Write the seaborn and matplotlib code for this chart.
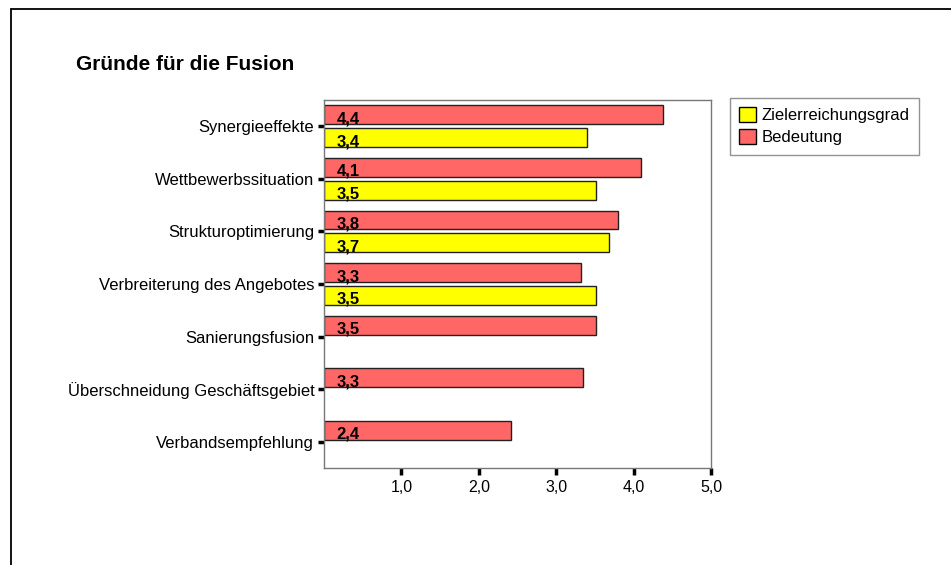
import numpy as np
import pandas as pd
import matplotlib
matplotlib.use("Agg")
import matplotlib.pyplot as plt
import seaborn as sns
from matplotlib.lines import Line2D
from matplotlib.patches import Patch

categories = ["Synergieeffekte", "Wettbewerbssituation", "Strukturoptimierung",
              "Verbreiterung des Angebotes", "Sanierungsfusion",
              "Überschneidung Geschäftsgebiet", "Verbandsempfehlung"]
bedeutung = [4.38, 4.10, 3.80, 3.32, 3.52, 3.34, 2.41]
ziel = [3.40, 3.51, 3.68, 3.52, np.nan, np.nan, np.nan]
xticks = [1, 2, 3, 4, 5]

sns.set_style("white")
plt.rcParams['font.family'] = ['Liberation Sans', 'DejaVu Sans']
plt.rcParams['text.color'] = 'black'
plt.rcParams['xtick.color'] = 'black'
plt.rcParams['ytick.color'] = 'black'

df = pd.DataFrame({
    'Kategorie': categories * 2,
    'Wert': bedeutung + ziel,
    'Reihe': ['Bedeutung'] * len(categories) + ['Zielerreichungsgrad'] * len(categories),
})

colors = {'Bedeutung': '#FF6666', 'Zielerreichungsgrad': '#FFFF00'}

fig = plt.figure(figsize=(9.51, 5.65), dpi=100)
ax = fig.add_axes([324 / 951, 1 - 468 / 565, 387 / 951, 368 / 565])

sns.barplot(data=df, y='Kategorie', x='Wert', hue='Reihe', orient='h',
            hue_order=['Bedeutung', 'Zielerreichungsgrad'], palette=colors,
            saturation=1, width=0.87, gap=0.17, edgecolor='#222222', linewidth=1,
            ax=ax, legend=False)

# value labels inside the bars, bold, near the left
for cont in ax.containers:
    for bar in cont:
        w = bar.get_width()
        if not np.isfinite(w) or w == 0:
            continue
        bottom = bar.get_y() + bar.get_height()
        ax.text(0.16, bottom - 0.02, f"{w:.1f}".replace('.', ','),
                fontsize=12, fontweight='bold', va='baseline', ha='left', color='black')

ax.set_xlim(0, 5)
ax.set_xticks(xticks)
ax.set_xticklabels([f"{t:.1f}".replace('.', ',') for t in xticks], fontsize=11.5)
ax.set_xlabel('')
ax.set_ylabel('')
ax.tick_params(axis='y', labelsize=12, length=4, width=2.5, color='black', pad=3, left=True)
ax.tick_params(axis='x', length=5, width=2.5, color='black', pad=4, bottom=True)
for s in ax.spines.values():
    s.set_color('#777777')
    s.set_linewidth(1)

handles = [Patch(facecolor=colors['Zielerreichungsgrad'], edgecolor='black', label='Zielerreichungsgrad'),
           Patch(facecolor=colors['Bedeutung'], edgecolor='black', label='Bedeutung')]
leg = fig.legend(handles=handles, loc='upper left', bbox_to_anchor=(730 / 951, 1 - 98 / 565),
                 fontsize=12, frameon=True, fancybox=False, handlelength=1.0, handleheight=1.0,
                 handletextpad=0.35, borderpad=0.55, labelspacing=0.35, borderaxespad=0)
leg.get_frame().set_edgecolor('#777777')
leg.get_frame().set_linewidth(1)

fig.text(76 / 951, 1 - 65 / 565, 'Gründe für die Fusion', fontsize=15, fontweight='bold', va='center')

# outer frame lines (top and left)
fig.add_artist(Line2D([11 / 951, 1], [1 - 9 / 565] * 2, transform=fig.transFigure, color='black', lw=1.3))
fig.add_artist(Line2D([11 / 951] * 2, [0, 1 - 9 / 565], transform=fig.transFigure, color='black', lw=1.3))

fig.savefig('out.png', dpi=100)
